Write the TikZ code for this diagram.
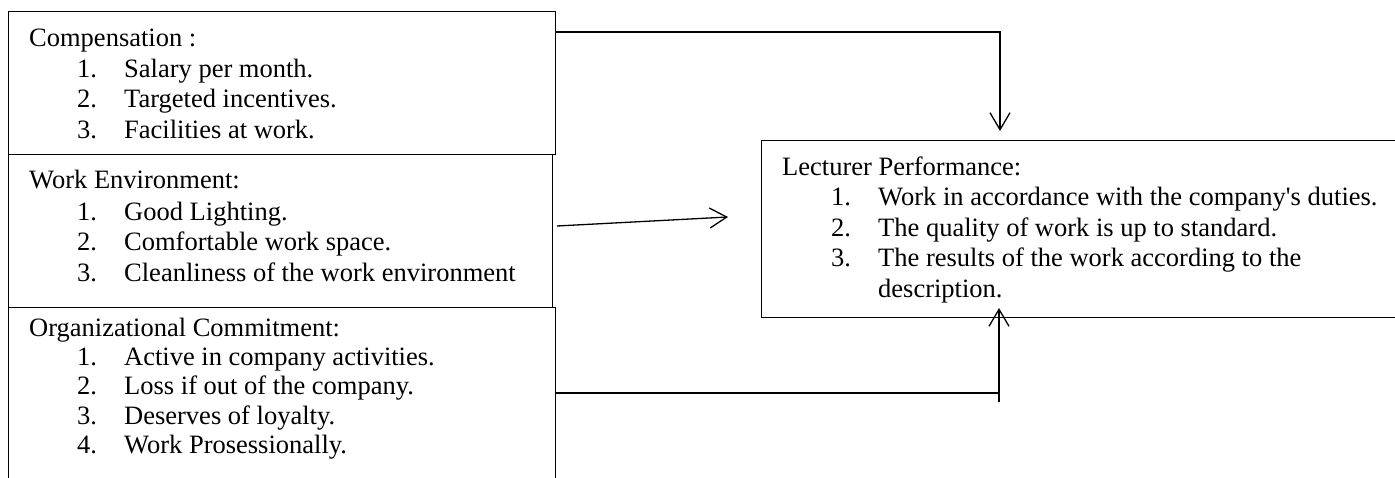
\documentclass[tikz,border=0pt]{standalone}
\usepackage{fontspec}
\setmainfont{Liberation Serif}
\usetikzlibrary{arrows.meta}
\begin{document}
\begin{tikzpicture}[x=1pt,y=1pt,
  box/.style={draw=black, line width=1.3pt, rectangle, inner sep=0pt, anchor=north west},
  txt/.style={anchor=base west, inner sep=0pt, font=\fontsize{26.5pt}{30pt}\selectfont},
  conn/.style={draw=black, line width=1.3pt},
  arr/.style={conn, -{Straight Barb[length=17pt, width=20pt, line width=1.3pt]}}]
\useasboundingbox (0,0) rectangle (1395,-477);
\clip (0,0) rectangle (1395,-477);
\fill[white] (0,0) rectangle (1395,-477);
% boxes
\node[box, minimum width=547pt, minimum height=143pt] (comp) at (8,-11) {};
\node[box, minimum width=544pt, minimum height=153pt] (env) at (8,-154) {};
\node[box, minimum width=547pt, minimum height=200pt] (org) at (8,-307) {};
\node[box, minimum width=700pt, minimum height=177pt] (perf) at (761,-140) {};
% Compensation
\node[txt] (c0) at (29,-46) {Compensation :};
\node[txt] (c1n) at (77,-77) {1.}; \node[txt] (c1) at (124,-77) {Salary per month.};
\node[txt] (c2n) at (77,-107) {2.}; \node[txt] (c2) at (124,-107) {Targeted incentives.};
\node[txt] (c3n) at (77,-138) {3.}; \node[txt] (c3) at (124,-138) {Facilities at work.};
% Work Environment
\node[txt] (e0) at (29,-188) {Work Environment:};
\node[txt] (e1n) at (77,-220) {1.}; \node[txt] (e1) at (124,-220) {Good Lighting.};
\node[txt] (e2n) at (77,-250) {2.}; \node[txt] (e2) at (124,-250) {Comfortable work space.};
\node[txt] (e3n) at (77,-281) {3.}; \node[txt] (e3) at (124,-281) {Cleanliness of the work environment};
% Organizational Commitment
\node[txt] (o0) at (29,-336) {Organizational Commitment:};
\node[txt] (o1n) at (77,-365) {1.}; \node[txt] (o1) at (124,-365) {Active in company activities.};
\node[txt] (o2n) at (77,-394) {2.}; \node[txt] (o2) at (124,-394) {Loss if out of the company.};
\node[txt] (o3n) at (77,-424) {3.}; \node[txt] (o3) at (124,-424) {Deserves of loyalty.};
\node[txt] (o4n) at (77,-453) {4.}; \node[txt] (o4) at (124,-453) {Work Prosessionally.};
% Lecturer Performance
\node[txt] (p0) at (782,-175) {Lecturer Performance:};
\node[txt] (p1n) at (831,-205) {1.}; \node[txt] (p1) at (878,-205) {Work in accordance with the company\textquotesingle s duties.};
\node[txt] (p2n) at (831,-236) {2.}; \node[txt] (p2) at (878,-236) {The quality of work is up to standard.};
\node[txt] (p3n) at (831,-266) {3.}; \node[txt] (p3) at (878,-266) {The results of the work according to the};
\node[txt] (p4) at (878,-297) {description.};
% connector points
\coordinate (a1s) at (comp.east |- 0,-32);
\coordinate (a1e) at (1000,-131);
\coordinate (a2s) at (557,-226);
\coordinate (a2e) at (728,-217);
\coordinate (a3s) at (org.east |- 0,-393);
\coordinate (a3c) at (999,-393);
\coordinate (a3b) at (999,-402);
\coordinate (a3e) at (999,-308);
% connectors
\draw[arr] (a1s) -| (a1e);
\draw[arr] (a2s) -- (a2e);
\draw[conn] (a3s) -- (a3c);
\draw[arr] (a3b) -- (a3e);
\end{tikzpicture}
\end{document}
